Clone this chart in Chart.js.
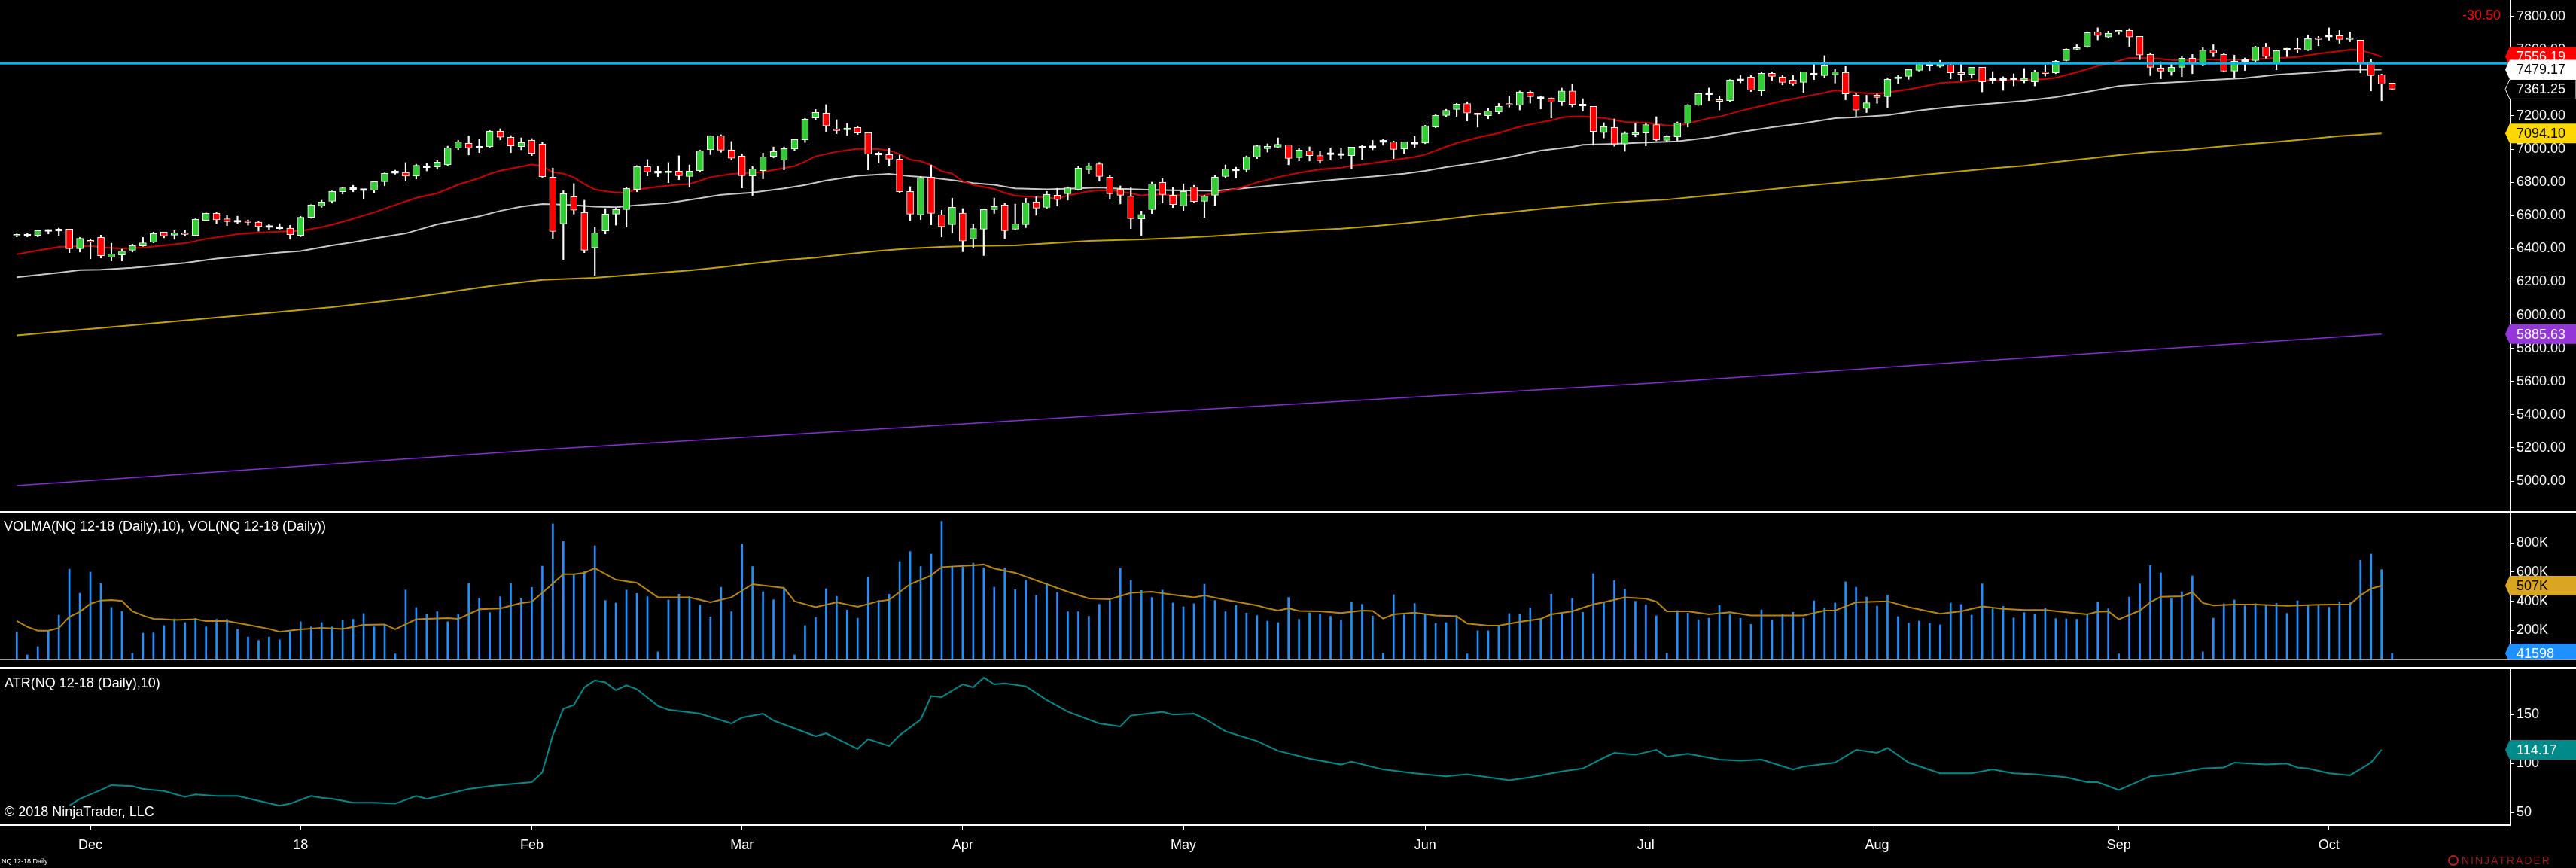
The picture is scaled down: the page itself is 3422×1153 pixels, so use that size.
<!DOCTYPE html>
<html>
<head>
<meta charset="utf-8">
<title>NQ 12-18 Daily</title>
<script src="https://cdn.jsdelivr.net/npm/chart.js@4.4.0/dist/chart.umd.min.js"></script>
<style>
  html, body { margin: 0; padding: 0; background: #000; }
  body { width: 3422px; height: 1153px; position: relative; overflow: hidden;
         font-family: 'Liberation Sans', Arial, sans-serif; color: #fff; }
  canvas { display: block; }
  .pane { position: absolute; left: 0; width: 3422px; }
  .rule { position: absolute; left: 0; width: 3422px; background: #fff; }
  .note { position: absolute; font-size: 18px; line-height: 20px; white-space: nowrap; }
  .logo { position: absolute; left: 3252px; top: 1134px; height: 18px; white-space: nowrap;
          font-size: 14px; line-height: 18px; color: #9e1b1b; letter-spacing: 2px; }
  .logo span { display: inline-block; width: 10px; height: 10px; border: 2px solid #b52020;
               border-radius: 50%; vertical-align: -2px; margin-right: 4px; }
</style>
</head>
<body>
<div class="pane" style="top:0;height:679px"><canvas id="priceChart" width="3422" height="679"></canvas></div>
<div class="rule" style="top:679px;height:2px"></div>
<div class="pane" style="top:682px;height:194px"><canvas id="volChart" width="3422" height="194"></canvas></div>
<div class="rule" style="top:876px;height:1px;background:#9a9a9a"></div>
<div class="rule" style="top:886px;height:2px"></div>
<div class="pane" style="top:889px;height:264px"><canvas id="atrChart" width="3422" height="264"></canvas></div>

<div class="note" style="left:5px;top:689px">VOLMA(NQ 12-18 (Daily),10), VOL(NQ 12-18 (Daily))</div>
<div class="note" style="left:6px;top:897px">ATR(NQ 12-18 (Daily),10)</div>
<div class="note" style="left:6px;top:1068px">© 2018 NinjaTrader, LLC</div>
<div class="note" style="left:2px;top:1139px;font-size:9px;line-height:10px">NQ 12-18 Daily</div>
<div class="logo"><span></span>NINJATRADER</div>

<script>
(function(){
  'use strict';

  // x = bar number, 0 is the first daily bar on screen (late Nov 2017)
  const monthIdx = [7, 27, 49, 69, 90, 111, 134, 155, 177, 200, 220];
  const monthNames = ['Dec', '18', 'Feb', 'Mar', 'Apr', 'May', 'Jun', 'Jul', 'Aug', 'Sep', 'Oct'];

  const opens = [
    6477,6482,6480,6510,6512,6518,6400,6450,6468,6349,
    6362,6391,6417,6439,6500,6482,6495,6480,6571,6613,
    6581,6566,6569,6560,6534,6527,6524,6480,6589,6657,
    6686,6743,6763,6756,6752,6804,6861,6860,6838,6894,
    6893,6905,7006,7035,7011,7015,7108,7072,7016,7053,
    7031,6831,6550,6713,6618,6405,6508,6609,6636,6757,
    6895,6861,6858,6867,6835,6870,6997,7081,6994,6958,
    6839,6870,6957,6934,7002,7056,7188,7217,7123,7117,
    7130,7099,6970,6967,6940,6745,6604,6831,6604,6545,
    6615,6459,6518,6636,6663,6518,6545,6681,6649,6722,
    6731,6757,6876,6912,6831,6758,6717,6580,6636,6799,
    6722,6658,6772,6686,6722,6835,6875,6876,6953,7003,
    7012,7026,6949,6990,6962,6973,6968,6961,7012,7014,
    7047,7044,7002,7036,7038,7133,7203,7239,7275,7217,
    7201,7224,7275,7265,7344,7309,7309,7288,7350,7265,
    7257,7099,7130,7031,7088,7097,7148,7053,7074,7155,
    7265,7334,7298,7292,7417,7434,7351,7457,7434,7416,
    7402,7452,7443,7448,7461,7325,7244,7325,7316,7425,
    7439,7475,7507,7498,7507,7461,7451,7493,7419,7419,
    7424,7415,7405,7466,7460,7534,7602,7616,7706,7675,
    7706,7715,7679,7570,7489,7466,7493,7548,7507,7597,
    7570,7470,7534,7534,7616,7519,7602,7607,7597,7670,
    7681,7684,7661,7656,7525,7448,7398
  ];
  const highs = [
    6489,6491,6512,6515,6524,6518,6468,6459,6482,6433,
    6397,6427,6468,6500,6500,6509,6513,6581,6615,6619,
    6601,6596,6574,6566,6547,6551,6541,6595,6666,6692,
    6748,6770,6782,6758,6807,6857,6873,6919,6909,6914,
    6931,7018,7053,7080,7062,7112,7123,7082,7068,7064,
    7043,6886,6749,6792,6692,6529,6642,6644,6769,6901,
    6937,6896,6919,6960,6905,6994,7081,7087,7046,6972,
    6895,6976,7013,7013,7062,7185,7239,7268,7177,7155,
    7137,7099,6982,7005,6964,6774,6834,6904,6631,6704,
    6642,6547,6640,6705,6674,6669,6704,6713,6745,6764,
    6773,6896,6918,6920,6840,6778,6767,6627,6801,6823,
    6769,6791,6782,6722,6840,6905,6891,6959,7026,7032,
    7068,7026,7005,7014,6990,7008,7008,7012,7026,7053,
    7058,7049,7044,7077,7144,7207,7240,7276,7285,7217,
    7244,7275,7321,7350,7350,7318,7309,7368,7390,7304,
    7257,7159,7182,7105,7155,7155,7195,7082,7164,7269,
    7337,7368,7321,7419,7445,7443,7466,7466,7445,7445,
    7466,7510,7563,7480,7498,7339,7325,7333,7430,7443,
    7480,7515,7526,7535,7511,7511,7493,7493,7467,7436,
    7454,7486,7475,7508,7534,7605,7629,7706,7731,7711,
    7715,7726,7679,7578,7526,7511,7557,7570,7611,7629,
    7575,7566,7549,7620,7638,7597,7608,7670,7688,7679,
    7731,7715,7706,7656,7543,7452,7398
  ];
  const lows = [
    6471,6471,6471,6489,6480,6376,6380,6339,6344,6326,
    6326,6380,6414,6435,6466,6457,6477,6476,6569,6551,
    6539,6553,6542,6506,6516,6518,6457,6473,6584,6650,
    6675,6730,6743,6702,6739,6779,6849,6807,6820,6869,
    6879,6900,6997,6965,6979,7011,7056,6979,6996,6961,
    6830,6462,6335,6609,6376,6240,6489,6542,6530,6743,
    6839,6834,6798,6816,6771,6861,6967,6981,6934,6766,
    6721,6821,6948,6875,6993,7041,7177,7106,7093,7082,
    7088,6875,6916,6898,6739,6571,6576,6544,6471,6495,
    6382,6404,6359,6613,6462,6513,6527,6602,6643,6657,
    6693,6752,6852,6807,6698,6670,6521,6480,6612,6675,
    6648,6630,6680,6589,6661,6825,6825,6861,6943,6982,
    7009,6906,6929,6929,6915,6934,6943,6882,6938,6996,
    7024,6943,6974,7011,7033,7129,7194,7196,7170,7133,
    7183,7210,7253,7236,7277,7242,7188,7262,7254,7229,
    7024,7068,7018,6987,7074,7020,7050,7047,7052,7133,
    7263,7292,7236,7283,7399,7347,7324,7415,7387,7384,
    7342,7419,7430,7398,7297,7195,7220,7276,7248,7396,
    7421,7470,7474,7493,7424,7410,7427,7345,7396,7354,
    7381,7399,7381,7440,7455,7531,7597,7613,7658,7670,
    7693,7619,7539,7443,7424,7445,7437,7455,7501,7557,
    7464,7428,7474,7523,7548,7478,7557,7579,7593,7623,
    7656,7638,7647,7460,7351,7292,7360
  ];
  const closes = [
    6486,6482,6509,6510,6512,6400,6463,6439,6358,6368,
    6386,6418,6436,6491,6477,6495,6486,6577,6613,6575,
    6563,6566,6559,6534,6534,6527,6485,6590,6663,6681,
    6745,6767,6763,6756,6804,6854,6861,6838,6903,6894,
    6922,7008,7044,7008,7011,7108,7072,7020,7040,6975,
    6834,6504,6731,6632,6391,6495,6609,6636,6763,6895,
    6863,6861,6867,6840,6867,6990,7081,6994,6945,6840,
    6881,6954,6985,7003,7058,7180,7221,7140,7112,7127,
    7097,6970,6970,6940,6743,6609,6828,6613,6532,6650,
    6446,6522,6636,6654,6509,6550,6677,6645,6727,6696,
    6767,6885,6900,6835,6731,6722,6581,6607,6790,6726,
    6666,6745,6684,6717,6831,6881,6875,6953,7021,7017,
    7030,6944,6994,6961,6931,6973,6968,7012,7012,7014,
    7047,6999,7044,7036,7139,7203,7234,7271,7217,7207,
    7230,7257,7265,7345,7316,7309,7283,7350,7269,7265,
    7106,7136,7031,7096,7100,7148,7056,7076,7158,7266,
    7334,7334,7288,7416,7417,7356,7457,7439,7402,7393,
    7466,7452,7502,7466,7333,7235,7279,7312,7421,7436,
    7480,7510,7507,7511,7460,7451,7493,7405,7419,7419,
    7424,7428,7466,7455,7529,7602,7611,7702,7684,7697,
    7715,7675,7566,7493,7470,7493,7548,7520,7597,7579,
    7470,7529,7534,7616,7557,7593,7602,7597,7666,7661,
    7681,7661,7670,7520,7443,7391.75,7361.25
  ];
  // volume in thousands of contracts
  const volumes = [
    190,31,88,198,305,620,455,600,522,357,
    331,42,181,183,233,279,253,283,224,276,
    276,207,155,131,155,135,190,259,224,253,
    224,267,276,316,224,241,38,477,357,310,
    328,259,310,522,419,322,431,522,417,495,
    641,931,810,586,603,781,405,388,477,453,
    431,52,409,448,431,374,293,496,328,793,
    638,465,410,483,31,233,290,486,434,340,
    284,565,405,448,672,741,638,724,948,638,
    634,662,629,496,629,479,543,440,526,460,
    328,328,297,379,405,626,543,474,426,477,
    388,362,383,517,405,328,371,319,302,264,
    253,426,276,321,314,297,271,393,379,298,
    43,445,307,384,314,248,253,302,38,197,
    197,228,316,310,355,279,448,310,419,324,
    589,396,541,483,400,376,300,43,336,319,
    272,284,372,307,283,241,341,271,309,324,
    283,403,352,388,533,496,429,367,440,295,
    250,264,248,238,388,378,305,519,348,365,
    286,322,310,353,281,279,276,307,393,348,
    38,429,519,646,595,419,465,574,52,284,
    383,409,369,384,371,386,317,403,371,374,
    359,395,390,681,724,617,41.598
  ];

  // moving averages, read at the bars where they could be read
  const fastMaIdx = [0,2,4,7,8,10,12,14,16,18,20,21,23,25,27,29,30,32,34,36,38,40,42,44,45,46,48,49,50,51,52,53,54,55,56,57,58,59,61,63,64,65,66,68,70,71,73,74,75,76,78,80,82,83,84,85,86,87,88,89,90,91,93,94,95,97,98,99,100,102,103,104,105,106,107,108,110,112,113,114,116,117,118,120,122,124,126,127,129,131,133,134,135,136,137,139,141,143,145,146,147,148,149,150,151,152,153,155,156,157,158,159,160,161,162,164,166,168,170,172,173,174,175,177,178,180,182,183,185,186,187,189,191,193,194,196,198,199,201,202,204,205,207,208,210,212,214,216,217,219,221,222,223,224,225];
  const fastMa = [6367,6389,6411,6417,6409,6401,6406,6420,6433,6459,6478,6488,6497,6503,6507,6530,6545,6581,6619,6663,6707,6734,6786,6826,6851,6870,6895,6907,6898,6861,6852,6830,6789,6757,6746,6739,6740,6757,6774,6786,6790,6810,6831,6851,6857,6863,6886,6898,6925,6957,6984,7003,7000,6993,6969,6937,6928,6904,6867,6852,6807,6785,6760,6737,6719,6711,6710,6699,6722,6745,6752,6751,6745,6734,6720,6728,6722,6722,6723,6736,6760,6778,6799,6831,6858,6878,6888,6900,6915,6935,6953,6967,6991,7015,7037,7070,7097,7135,7162,7173,7191,7197,7198,7191,7188,7176,7164,7159,7152,7142,7142,7155,7170,7186,7195,7230,7260,7291,7315,7339,7354,7348,7341,7334,7342,7360,7385,7398,7405,7413,7415,7415,7415,7422,7430,7463,7501,7514,7549,7549,7543,7537,7535,7541,7537,7538,7546,7552,7555,7575,7590,7599,7596,7578,7556];

  const slowMaIdx = [0,4,6,8,11,13,16,19,22,25,27,30,32,34,37,40,42,44,46,48,50,52,53,55,57,59,62,65,67,70,73,75,77,80,83,85,87,89,91,93,95,98,101,103,105,108,111,114,117,120,123,126,129,132,134,136,139,142,145,148,149,152,155,158,161,164,167,170,173,175,178,181,183,185,188,191,194,197,200,203,206,209,212,215,218,221,222,225];
  const slowMa = [6228,6255,6271,6274,6285,6296,6314,6341,6358,6377,6386,6420,6439,6462,6492,6547,6571,6596,6628,6653,6669,6666,6663,6653,6650,6662,6675,6704,6725,6739,6763,6784,6811,6839,6851,6837,6828,6813,6795,6785,6764,6758,6763,6769,6761,6754,6751,6749,6766,6784,6802,6819,6835,6852,6869,6892,6919,6952,6991,7014,7026,7032,7040,7047,7070,7102,7132,7156,7186,7192,7204,7233,7248,7260,7275,7291,7313,7345,7380,7395,7405,7418,7428,7448,7460,7474,7480,7479];

  const midMaIdx = [0,14,30,37,45,50,55,60,64,67,70,73,76,79,82,85,88,91,95,99,102,107,111,114,117,120,123,126,129,132,135,139,142,145,148,151,154,157,160,163,166,169,172,175,178,181,185,188,191,194,197,200,203,206,209,212,215,218,221,225];
  const midMa = [5878,5956,6048,6100,6175,6212,6225,6250,6269,6288,6311,6331,6346,6368,6387,6402,6411,6416,6420,6436,6447,6456,6466,6477,6489,6500,6512,6521,6536,6553,6572,6603,6619,6640,6657,6674,6686,6696,6715,6733,6752,6772,6790,6807,6822,6843,6867,6885,6900,6922,6943,6964,6982,6994,7012,7029,7044,7061,7079,7094];

  const longMaIdx = [0, 50, 108, 155, 202, 225];
  const longMa = [4973, 5190, 5414, 5588, 5788, 5886];

  const volMaIdx = [0,1,2,3,4,5,6,7,8,9,10,11,12,13,14,15,17,18,20,22,24,25,27,29,31,33,35,36,38,41,42,44,46,48,49,50,52,53,54,55,57,59,61,64,66,68,70,73,74,76,78,80,82,83,85,87,88,91,92,93,95,98,100,102,104,106,108,110,112,113,115,118,119,120,121,122,124,126,128,129,130,131,133,135,137,138,140,141,143,145,146,148,150,151,153,155,156,157,159,161,163,165,167,170,172,173,175,178,180,183,185,187,189,191,193,195,197,198,199,200,202,203,204,206,207,208,209,211,213,216,219,222,223,224,225];
  const volMa = [264,224,198,198,216,293,328,383,405,409,402,331,302,279,276,272,276,264,264,238,210,190,207,217,210,238,241,207,276,284,279,345,350,388,397,457,586,586,595,626,548,526,427,427,393,427,517,491,400,359,393,362,400,410,517,577,634,646,652,624,595,517,465,419,414,457,465,445,427,440,410,371,352,336,352,334,331,319,336,334,281,310,322,302,297,247,233,233,259,279,310,331,379,393,426,417,397,331,331,310,324,302,302,302,336,336,393,400,359,314,331,365,348,340,340,324,310,328,331,276,336,393,431,434,462,388,371,378,378,369,376,379,440,486,507];

  const atrIdx = [5,6,8,9,11,12,14,16,17,19,21,23,25,26,28,29,30,32,34,36,38,39,41,43,45,47,49,50,51,52,53,54,55,56,57,58,59,61,62,65,68,69,71,72,74,76,77,80,81,83,84,86,87,88,90,91,92,93,94,96,98,100,103,105,106,109,110,112,113,115,118,120,123,126,127,130,133,136,138,140,142,144,147,149,151,152,154,156,157,159,162,164,166,169,170,173,175,177,178,180,183,186,188,190,192,195,197,198,200,203,205,208,210,211,214,216,217,218,220,222,224,225];
  const atr = [57,64,73,78,77,74,72,66,68.5,67,67,62,57,59,67,65,64,60,60,59,67,64,69,74,77,79,81,91,129,156,160,178,185,183,175,180,176,159,155,151,141,147,151,144,136,128,131,115,125,118,129,145,169,168,181,178,188,181,182,179,165,153,141,138,149,153,150,151,146,133,123,113,105,99,102,94,90,87,89,86,83,86,92,95,106,111,109,114,107,110,104,103,104,94,97,101,114,111,116,101,90,90,94,90,89,86,81,81,73,87,89,95,96,101,99,100,96,95,90,88,101,114.17];

  const levelLine = 7516;
  const netChange = '-30.50';

  const priceTicks = [5000,5200,5400,5600,5800,6000,6200,6400,6600,6800,7000,7200,7400,7600,7800];
  const volTicks = [200,400,600,800];
  const atrTicks = [50,100,150];

  const priceTags = [
    { value: 7556.19, text: '7556.19', bg: '#ff0000', fg: '#ffffff' },
    { value: 7479.17, text: '7479.17', bg: '#ffffff', fg: '#000000' },
    { value: 7361.25, text: '7361.25', bg: '#000000', fg: '#ffffff', edge: '#ffffff' },
    { value: 7094.10, text: '7094.10', bg: '#ffd700', fg: '#000000' },
    { value: 5885.63, text: '5885.63', bg: '#9436d8', fg: '#ffffff' }
  ];
  const volTags = [
    { value: 507, text: '507K', bg: '#daa520', fg: '#000000' },
    { value: 41.598, text: '41598', bg: '#1e90ff', fg: '#ffffff' }
  ];
  const atrTags = [
    { value: 114.17, text: '114.17', bg: '#008b8b', fg: '#ffffff' }
  ];

  const xMin = -1.6, xMax = 237.2;
  const fontFamily = "'Liberation Sans', Arial, sans-serif";

  Chart.defaults.font.family = fontFamily;
  Chart.defaults.font.size = 18;
  Chart.defaults.color = '#ffffff';

  function points(idx, vals){
    return idx.map((x, k) => ({ x: x, y: vals[k] }));
  }

  function maLine(idx, vals, color, width){
    return { type: 'line', data: points(idx, vals), borderColor: color, borderWidth: width,
             pointRadius: 0, tension: 0, order: 5 };
  }

  function tagPlugin(tags, topText){
    return {
      id: 'tags',
      afterDraw(chart){
        const ctx = chart.ctx;
        const y = chart.scales.y;
        const left = chart.chartArea.right;
        ctx.save();
        ctx.font = '18px ' + fontFamily;
        ctx.textBaseline = 'middle';
        tags.forEach(t => {
          const py = y.getPixelForValue(t.value);
          ctx.beginPath();
          ctx.moveTo(left - 6, py);
          ctx.lineTo(left, py - 13);
          ctx.lineTo(chart.width, py - 13);
          ctx.lineTo(chart.width, py + 13);
          ctx.lineTo(left, py + 13);
          ctx.closePath();
          ctx.fillStyle = t.bg;
          ctx.fill();
          if (t.edge) {
            ctx.strokeStyle = t.edge;
            ctx.lineWidth = 1;
            ctx.stroke();
          }
          ctx.fillStyle = t.fg;
          ctx.textAlign = 'left';
          ctx.fillText(t.text, left + 9, py + 1);
        });
        if (topText) {
          ctx.fillStyle = '#ff0000';
          ctx.textAlign = 'right';
          ctx.fillText(topText, left - 12, 21);
        }
        ctx.restore();
      }
    };
  }

  // the scales must not push the plot area in for their edge labels
  function noEdgePadding(axis){
    axis.paddingTop = 0;
    axis.paddingBottom = 0;
    axis.paddingLeft = 0;
    axis.paddingRight = 0;
  }

  function rightAxis(min, max, tickValues, fmt){
    return {
      position: 'right',
      min: min,
      max: max,
      afterFit: function(axis){ axis.width = 88; noEdgePadding(axis); },
      afterBuildTicks: function(axis){ axis.ticks = tickValues.map(v => ({ value: v })); },
      ticks: { color: '#ffffff', padding: 3, callback: fmt },
      grid: { drawOnChartArea: false, color: '#ffffff', tickLength: 6 },
      border: { color: '#ffffff', width: 1 }
    };
  }

  function hiddenX(){
    return { type: 'linear', min: xMin, max: xMax, offset: false, display: false };
  }

  const baseOptions = {
    responsive: false,
    animation: false,
    devicePixelRatio: 1,
    layout: { padding: 0 },
    plugins: { legend: { display: false }, tooltip: { enabled: false } }
  };

  // price panel
  const bodies = closes.map((c, i) => {
    const o = opens[i];
    return { x: i, y: o === c ? [c - 6, c + 6] : [o, c] };
  });
  const bodyColors = closes.map((c, i) => c > opens[i] ? '#32cd32' : (c < opens[i] ? '#ff0000' : '#ffffff'));
  const wicks = highs.map((h, i) => ({ x: i, y: [lows[i], h] }));

  new Chart(document.getElementById('priceChart'), {
    type: 'bar',
    data: {
      datasets: [
        { type: 'line', data: [{ x: xMin, y: levelLine }, { x: xMax, y: levelLine }],
          borderColor: '#00b4ef', borderWidth: 3, pointRadius: 0, order: 0 },
        { data: bodies, backgroundColor: bodyColors, borderColor: '#ffffff', borderWidth: 1,
          borderSkipped: false, barThickness: 9, grouped: false, order: 1 },
        { data: wicks, backgroundColor: '#ffffff', barThickness: 1.5, grouped: false, order: 2 },
        maLine(fastMaIdx, fastMa, '#cc0000', 2),
        maLine(slowMaIdx, slowMa, '#c8c8c8', 2),
        maLine(midMaIdx, midMa, '#c4a200', 2),
        maLine(longMaIdx, longMa, '#8a2be2', 1.5)
      ]
    },
    options: Object.assign({}, baseOptions, {
      scales: {
        x: hiddenX(),
        y: rightAxis(4819, 7898.4, priceTicks, v => v.toFixed(2))
      }
    }),
    plugins: [tagPlugin(priceTags, netChange)]
  });

  // volume panel
  new Chart(document.getElementById('volChart'), {
    type: 'bar',
    data: {
      datasets: [
        { type: 'line', data: points(volMaIdx, volMa), borderColor: '#b8860b', borderWidth: 2,
          pointRadius: 0, tension: 0, order: 0 },
        { data: volumes.map((v, i) => ({ x: i, y: v })), backgroundColor: '#1e90ff',
          barThickness: 2, grouped: false, order: 1 }
      ]
    },
    options: Object.assign({}, baseOptions, {
      scales: {
        x: hiddenX(),
        y: rightAxis(0, 1003, volTicks, v => v + 'K')
      }
    }),
    plugins: [tagPlugin(volTags)]
  });

  // ATR panel with the date axis
  new Chart(document.getElementById('atrChart'), {
    type: 'line',
    data: {
      datasets: [
        { data: points(atrIdx, atr), borderColor: '#008b8b', borderWidth: 2, pointRadius: 0, tension: 0 }
      ]
    },
    options: Object.assign({}, baseOptions, {
      scales: {
        x: {
          type: 'linear', min: xMin, max: xMax, offset: false, position: 'bottom',
          afterFit: function(axis){ axis.height = 57; noEdgePadding(axis); },
          afterBuildTicks: function(axis){ axis.ticks = monthIdx.map(v => ({ value: v })); },
          ticks: { color: '#ffffff', padding: 10, maxRotation: 0, autoSkip: false,
                   callback: v => monthNames[monthIdx.indexOf(v)] },
          grid: { drawOnChartArea: false, color: '#ffffff', tickLength: 6 },
          border: { color: '#ffffff', width: 2 }
        },
        y: rightAxis(37.15, 196.4, atrTicks, v => String(v))
      }
    }),
    plugins: [tagPlugin(atrTags)]
  });
})();
</script>
</body>
</html>
